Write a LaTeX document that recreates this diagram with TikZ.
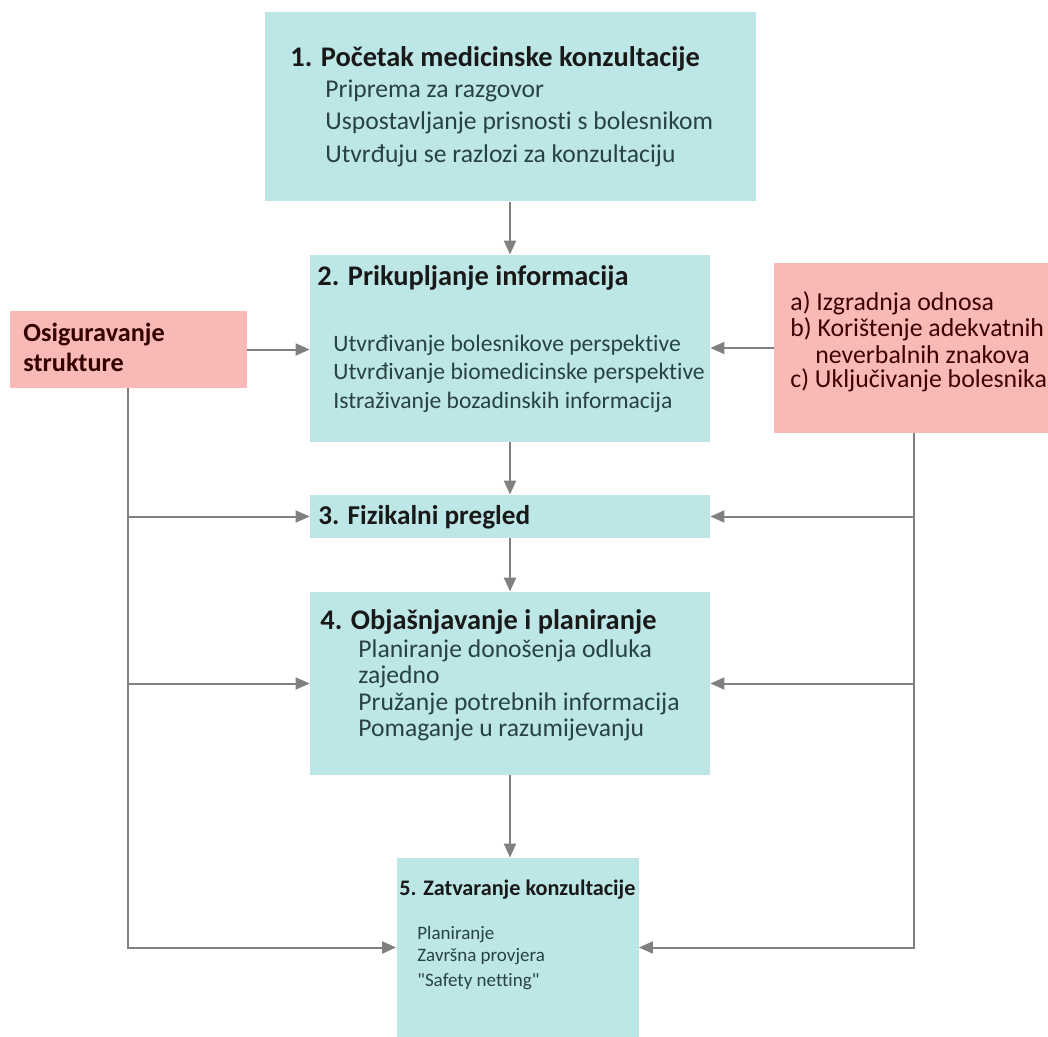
\documentclass[tikz,border=0pt]{standalone}
\usepackage{fontspec}
\setmainfont[Ligatures={TeX,NoCommon}]{Carlito}
\usetikzlibrary{arrows.meta}
\definecolor{tealbox}{RGB}{189,231,230}
\definecolor{pinkbox}{RGB}{248,185,183}
\definecolor{bodytext}{RGB}{40,66,66}
\definecolor{linegray}{RGB}{128,128,128}
\tikzset{>={Triangle[length=7pt,width=6pt]}}

\begin{document}
\begin{tikzpicture}[x=0.5pt,y=-0.5pt,
    stagebox/.style={fill=tealbox, draw=none, inner sep=0pt},
    sidebox/.style={fill=pinkbox, draw=none, inner sep=0pt},
    head/.style={anchor=west, inner sep=0pt, font=\bfseries\fontsize{14.2}{16}\selectfont, text=black!90},
    body/.style={anchor=west, inner sep=0pt, font=\fontsize{12.8}{15}\selectfont, text=bodytext},
    small/.style={body, font=\fontsize{9.5}{11}\selectfont},
    side/.style={body, font=\fontsize{12.9}{15}\selectfont, text=black!75!red},
    arr/.style={->, draw=linegray, line width=1pt}]
    \useasboundingbox (0,0) rectangle (1048,1037);
    % boxes
    \node[stagebox, minimum width=245.5pt, minimum height=94.5pt] (b1) at (510.5,107) {};
    \node[stagebox, minimum width=200pt, minimum height=93.5pt] (b2) at (510,348.5) {};
    \node[stagebox, minimum width=200pt, minimum height=21.5pt] (b3) at (510,516.5) {};
    \node[stagebox, minimum width=200pt, minimum height=91.5pt] (b4) at (510,683.5) {};
    \node[stagebox, minimum width=121pt, minimum height=89.5pt] (b5) at (517.5,947.5) {};
    \node[sidebox, minimum width=118.5pt, minimum height=38.5pt] (sL) at (128.5,349.5) {};
    \node[sidebox, minimum width=140pt, minimum height=85pt] (sR) at (914,348) {};
    % texts
    \node[head] (t1) at (290,59) {1. Početak medicinske konzultacije};
    \node[body] (t1a) at (325,91) {Priprema za razgovor};
    \node[body] (t1b) at (325,123) {Uspostavljanje prisnosti s bolesnikom};
    \node[body] (t1c) at (325,156) {Utvrđuju se razlozi za konzultaciju};
    \node[head] (t2) at (317,278) {2. Prikupljanje informacija};
    \node[body, font=\fontsize{11.8}{14}\selectfont] (t2a) at (333,345) {Utvrđivanje bolesnikove perspektive};
    \node[body, font=\fontsize{11.8}{14}\selectfont] (t2b) at (333,373) {Utvrđivanje biomedicinske perspektive};
    \node[body, font=\fontsize{11.8}{14}\selectfont] (t2c) at (333,402) {Istraživanje bozadinskih informacija};
    \node[head, font=\bfseries\fontsize{13.6}{16}\selectfont] (t3) at (318,517) {3. Fizikalni pregled};
    \node[head] (t4) at (320,622) {4. Objašnjavanje i planiranje};
    \node[body] (t4a) at (358,651) {Planiranje donošenja odluka};
    \node[body] (t4b) at (358,677) {zajedno};
    \node[body] (t4c) at (358,704) {Pružanje potrebnih informacija};
    \node[body] (t4d) at (358,730) {Pomaganje u razumijevanju};
    \node[head, font=\bfseries\fontsize{11.1}{13}\selectfont] (t5) at (399,890) {5. Zatvaranje konzultacije};
    \node[small] (t5a) at (417,935) {Planiranje};
    \node[small] (t5b) at (417,957) {Završna provjera};
    \node[small] (t5c) at (417,982) {\textquotedbl Safety netting\textquotedbl};
    \node[head, font=\bfseries\fontsize{13.1}{15}\selectfont, text=black!80!red] (tLa) at (23,335) {Osiguravanje};
    \node[head, font=\bfseries\fontsize{13.1}{15}\selectfont, text=black!80!red] (tLb) at (23,362) {strukture};
    \node[side] (tRa) at (790,303) {a) Izgradnja odnosa};
    \node[side] (tRb) at (790,329) {b) Korištenje adekvatnih};
    \node[side] (tRc) at (815,355) {neverbalnih znakova};
    \node[side] (tRd) at (790,380) {c) Uključivanje bolesnika};
    % trunk corners
    \coordinate (lt) at (128,950);
    \coordinate (rt) at (914,950);
    % connectors
    \draw[arr] (b1.south -| b2.north) -- (b2.north);
    \draw[arr] (b2.south) -- (b3.north);
    \draw[arr] (b3.south) -- (b4.north);
    \draw[arr] (b4.south) -- (b4.south |- b5.north);
    \draw[arr] (sL.east) -- (sL.east -| b2.west);
    \draw[arr] (sR.west) -- (sR.west -| b2.east);
    \draw[arr] (sL.south -| lt) |- (b5.west);
    \draw[arr] (sR.south -| rt) |- (b5.east);
    \draw[arr] (b3.west -| lt) -- (b3.west);
    \draw[arr] (b4.west -| lt) -- (b4.west);
    \draw[arr] (b3.east -| rt) -- (b3.east);
    \draw[arr] (b4.east -| rt) -- (b4.east);
\end{tikzpicture}
\end{document}
